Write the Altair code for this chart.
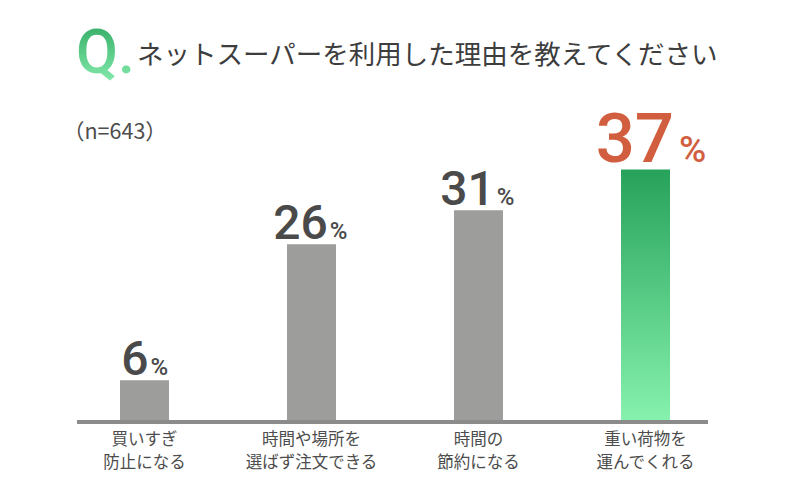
import altair as alt
import pandas as pd

# ---- data ----
categories = ["買いすぎ\n防止になる", "時間や場所を\n選ばず注文できる", "時間の\n節約になる", "重い荷物を\n運んでくれる"]
values = [6, 26, 31, 37]
highlight = [False, False, False, True]
title_text = "ネットスーパーを利用した理由を教えてください"
q_mark = "Q."
sample_note = "（n=643）"

df = pd.DataFrame({"cat": categories, "value": values, "idx": list(range(len(values))), "hl": highlight})
df["num"] = df["value"].astype(str)
one = pd.DataFrame({"k": [0]})

NUMFONT = "Roboto"
JPFONT = "Noto Sans CJK JP"
STEP = 169.5

x_scale = alt.Scale(domain=[-0.5, 3.5], nice=False, zero=False)
y_scale = alt.Scale(domain=[0, 50], nice=False)
X = alt.X("idx:Q", scale=x_scale, axis=None)
Y = alt.Y("value:Q", scale=y_scale, axis=None)
LX = alt.X("lx:Q", scale=x_scale, axis=None)

green = alt.LinearGradient(
    gradient="linear", x1=0, y1=0, x2=0, y2=1,
    stops=[alt.GradientStop(offset=0, color="#27a25b"), alt.GradientStop(offset=1, color="#86f2ad")],
)
q_green = alt.LinearGradient(
    gradient="linear", x1=0, y1=0, x2=0, y2=1,
    stops=[alt.GradientStop(offset=0, color="#2aa55e"), alt.GradientStop(offset=1, color="#8cf0b2")],
)

base = alt.Chart(df).transform_calculate(
    dxpx="datum.hl ? (length(datum.num) * 36 - 14) / 2 : (length(datum.num) * 25 - 17) / 2",
).transform_calculate(
    lx=f"datum.idx + datum.dxpx / {STEP}"
)

gray_bars = base.transform_filter("!datum.hl").mark_bar(size=49, color="#9d9d9b").encode(x=X, y=Y)
green_bars = base.transform_filter("datum.hl").mark_bar(size=49, color=green).encode(x=X, y=Y)

gray_num = base.transform_filter("!datum.hl").mark_text(
    align="right", baseline="alphabetic", dy=-5, font=NUMFONT, fontSize=48, fontWeight=500, color="#4a4a4a"
).encode(x=LX, y=Y, text="num:N")
gray_pct = base.transform_filter("!datum.hl").mark_text(
    align="left", baseline="alphabetic", dx=2, dy=-5, font=NUMFONT, fontSize=24, fontWeight=500, color="#4a4a4a"
).encode(x=LX, y=Y, text=alt.value("%"))

hl_num = base.transform_filter("datum.hl").mark_text(
    align="right", baseline="alphabetic", dy=-7, font=NUMFONT, fontSize=69, fontWeight=500, color="#d15f3f"
).encode(x=LX, y=Y, text="num:N")
hl_pct = base.transform_filter("datum.hl").mark_text(
    align="left", baseline="alphabetic", dx=5, dy=-7, font=NUMFONT, fontSize=37, fontWeight=500, color="#d15f3f"
).encode(x=LX, y=Y, text=alt.value("%"))

cat_labels = base.mark_text(
    align="center", baseline="alphabetic", lineBreak="\n", lineHeight=23, fontSize=16.5, font=JPFONT, color="#4d4d4d"
).encode(x=X, y=alt.value(364), text="cat:N")

axis_line = alt.Chart(one).mark_rule(strokeWidth=4, color="#8b8b8b").encode(
    x=alt.value(21), x2=alt.value(652), y=alt.value(341)
)

q_text = alt.Chart(one).mark_text(
    align="left", baseline="alphabetic", font=NUMFONT, fontSize=61, fontWeight=500, color=q_green
).encode(x=alt.value(20), y=alt.value(-8), text=alt.value(q_mark))

title = alt.Chart(one).mark_text(
    align="left", baseline="alphabetic", font=JPFONT, fontSize=26.5, color="#3d3d3d"
).encode(x=alt.value(81), y=alt.value(-17), text=alt.value(title_text))

note = alt.Chart(one).mark_text(
    align="left", baseline="alphabetic", font=JPFONT, fontSize=21.5, color="#4d4d4d"
).encode(x=alt.value(7), y=alt.value(58), text=alt.value(sample_note))

chart = alt.layer(
    gray_bars, green_bars, axis_line, gray_num, gray_pct, hl_num, hl_pct, cat_labels,
    q_text, title, note
).properties(
    width=678, height=340,
    padding={"left": 48, "top": 73, "right": 50, "bottom": 63},
    autosize=alt.AutoSizeParams(type="none"),
).configure_view(stroke=None)

chart.save("out.html", embed_options={"renderer": "svg", "actions": False})
